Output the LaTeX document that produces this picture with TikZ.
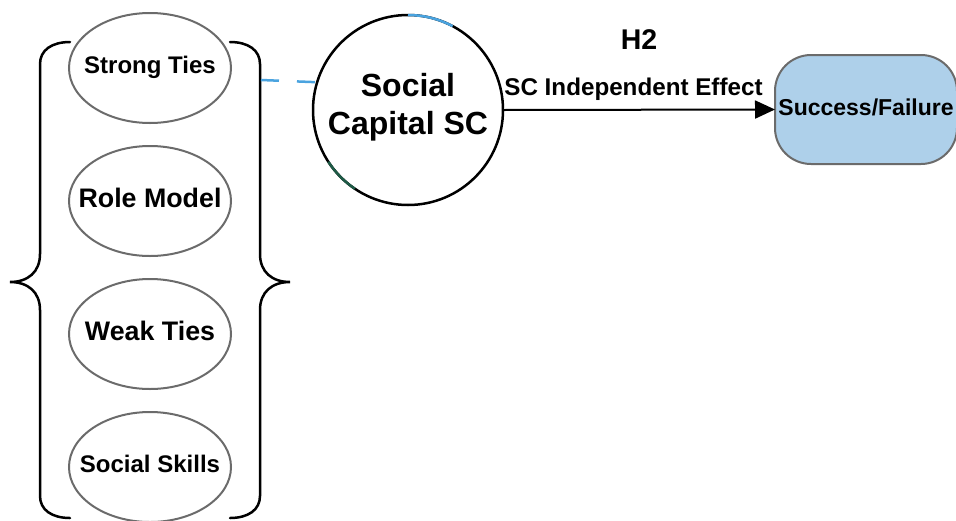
\documentclass[tikz,border=0pt]{standalone}
\usepackage{fontspec}
\setmainfont{Liberation Sans}
\usetikzlibrary{arrows.meta,shapes.geometric}
\definecolor{edgegray}{HTML}{6B6B6B}
\definecolor{linkblue}{HTML}{4AA3DF}
\definecolor{arcgreen}{HTML}{1E5A46}
\definecolor{boxfill}{HTML}{AED0EA}
% zero-width box so the ellipse size comes only from its minimum size
\newcommand{\ctext}[1]{\makebox[0pt]{#1}}
\begin{document}
\begin{tikzpicture}[x=1pt,y=-1pt,
  factor/.style={ellipse, draw=edgegray, line width=2pt, minimum width=162pt,
    minimum height=110pt, inner sep=0pt, outer sep=0pt, text depth=6pt},
  smalltxt/.style={font=\bfseries\fontsize{24}{28}\selectfont, text height=17.2pt},
  largetxt/.style={font=\bfseries\fontsize{26.8}{32}\selectfont, text height=19.2pt},
  brace/.style={draw=black, line width=2.5pt, line cap=round},
  capital/.style={circle, draw=black, line width=2.5pt, minimum size=190pt,
    inner sep=0pt, outer sep=0pt},
  capitaltext/.style={align=center, inner sep=0pt,
    font=\bfseries\fontsize{32}{38}\selectfont},
  outcome/.style={rectangle, rounded corners=36pt, draw=edgegray, fill=boxfill,
    line width=2pt, minimum width=182pt, minimum height=109pt, inner sep=0pt,
    outer sep=0pt, font=\bfseries\fontsize{23}{28}\selectfont,
    text height=16.5pt, text depth=5pt},
  lbl/.style={inner sep=0pt, anchor=base},
  link/.style={draw=linkblue, line width=2.5pt, dash pattern=on 18pt off 18pt},
  effect/.style={draw=black, line width=2pt, -{Triangle[length=20pt,width=18pt]}}
]
\useasboundingbox (0,0) rectangle (956,520);

% the four components of social capital
\node[factor, smalltxt] (strong) at (150,68)  {\ctext{Strong Ties}};
\node[factor, largetxt] (role)   at (150,201) {\ctext{Role Model}};
\node[factor, largetxt] (weak)   at (150,334) {\ctext{Weak Ties}};
\node[factor, smalltxt] (skills) at (150,467) {\ctext{Social Skills}};

% curly braces grouping the components
\draw[brace] (70,42) .. controls (52,42) and (40,50) .. (40,64) -- (40,254)
  .. controls (40,272) and (28,282) .. (10,282)
  .. controls (28,282) and (40,292) .. (40,310) -- (40,496)
  .. controls (40,510) and (52,518) .. (70,518);
\draw[brace] (230,42) .. controls (248,42) and (260,50) .. (260,64) -- (260,254)
  .. controls (260,272) and (272,282) .. (290,282)
  .. controls (272,282) and (260,292) .. (260,310) -- (260,496)
  .. controls (260,510) and (248,518) .. (230,518);
\coordinate (braceR) at (261,80);

% social capital construct
\node[capital] (sc) at (408,110) {};
\node[capitaltext] (sctext) at (408,107.5) {Social\\Capital SC};
\draw[draw=linkblue, line width=2.5pt] (sc.90) arc[start angle=90, end angle=62, radius=95pt];
\draw[draw=arcgreen, line width=2.5pt] (sc.213) arc[start angle=213, end angle=236, radius=95pt];

% link from the grouped components to social capital
\draw[link] (braceR) -- (sc.163);

% outcome
\node[outcome] (sf) at (866,109.5) {Success/Failure};

% hypothesis H2
\draw[effect] (sc.east) -- (sf.west);
\node[lbl, font=\bfseries\fontsize{24.2}{28}\selectfont] (eff) at (633.5,95) {SC Independent Effect};
\node[lbl, font=\bfseries\fontsize{28.5}{32}\selectfont] (h2) at (639,49.3) {H2};
\end{tikzpicture}
\end{document}
